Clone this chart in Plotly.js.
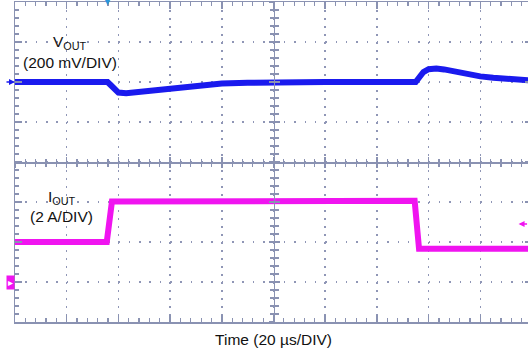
<!DOCTYPE html>
<html>
<head>
<meta charset="utf-8">
<script src="https://cdn.plot.ly/plotly-3.0.1.min.js"></script>
<style>
html,body{margin:0;padding:0;background:#fff;overflow:hidden;}
#chart{width:533px;height:350px;}
</style>
</head>
<body>
<div id="chart"></div>
<script>
// ---- data (time in µs, 20 µs/DIV) ----
const voutTime = [0, 35.8, 37, 38.5, 40, 43, 46, 50, 55, 60, 65, 70, 75, 80, 90, 100, 110, 120, 155, 156.5, 158, 160, 163, 166, 170, 175, 180, 185, 190, 195, 200];
const voutMv   = [0, 0, -15, -40, -53, -56, -52, -45, -36, -27, -20, -14, -10, -7, -4, -2, -1, 0, 0, 20, 50, 64, 68, 63, 52, 38, 28, 21, 15, 11, 8];

const ioutTime = [0, 35.5, 37.5, 100, 154.6, 156.3, 200];
const ioutA    = [2, 2, 4.02, 4.04, 4.06, 1.66, 1.66];

const triggerTime = 35.7;     // trigger position marker
const triggerLevelA = 2.9;    // trigger level marker on Iout
const voutLabel = ['V<sub>OUT</sub>', '(200 mV/DIV)'];
const ioutLabel = ['I<sub>OUT</sub>', '(2 A/DIV)'];
const timeLabel = 'Time (20 µs/DIV)';

// ---- styles ----
const GRID = '#8f96b6';
const AX = '#8a92b2';
const FONT = 'Liberation Sans, Arial, sans-serif';
const BLUE = '#1a1aee';
const MAG = '#f014f0';

const traces = [
  {x: voutTime, y: voutMv, xaxis: 'x', yaxis: 'y', type: 'scatter', mode: 'lines',
   line: {color: BLUE, width: 6}, hoverinfo: 'skip'},
  {x: ioutTime, y: ioutA, xaxis: 'x2', yaxis: 'y2', type: 'scatter', mode: 'lines',
   line: {color: MAG, width: 6}, hoverinfo: 'skip'},
  // empty traces so the centre-graticule axes get drawn
  {x: [], y: [], xaxis: 'x3', yaxis: 'y3', type: 'scatter', mode: 'lines', hoverinfo: 'skip'},
  {x: [], y: [], xaxis: 'x', yaxis: 'y4', type: 'scatter', mode: 'lines', hoverinfo: 'skip'}
];

const centerTickX = (side) => ({
  overlaying: 'x', anchor: 'free', position: 0.5, range: [0, 200], tick0: 0, dtick: 20,
  showgrid: false, zeroline: false, showline: side === 'inside', linecolor: AX, linewidth: 1.5,
  ticks: side, ticklen: 5, tickcolor: AX, tickwidth: 1.5, showticklabels: false,
  minor: {dtick: 4, ticks: side, ticklen: 3.5, tickcolor: AX, tickwidth: 1.2, showgrid: false}
});
const centerTickY = (side) => ({
  overlaying: 'y', anchor: 'free', position: 0.5, range: [-4, 4], tick0: 0, dtick: 1,
  showgrid: false, zeroline: false, showline: side === 'inside', linecolor: AX, linewidth: 1.5,
  ticks: side, ticklen: 5, tickcolor: AX, tickwidth: 1.5, showticklabels: false,
  minor: {dtick: 0.2, ticks: side, ticklen: 3.5, tickcolor: AX, tickwidth: 1.2, showgrid: false}
});

const layout = {
  width: 533, height: 350,
  margin: {l: 15, r: 1, t: 2, b: 28},
  paper_bgcolor: '#fff', plot_bgcolor: '#fff',
  showlegend: false,
  font: {family: FONT, size: 15.5, color: '#111'},
  xaxis: {
    range: [0, 200], tick0: 0, dtick: 20,
    showgrid: true, gridcolor: GRID, griddash: '1.5px,6.5px', gridwidth: 1.5,
    zeroline: false, showline: true, linecolor: AX, linewidth: 1.5, mirror: 'ticks',
    ticks: 'inside', ticklen: 7, tickcolor: AX, tickwidth: 1.5, showticklabels: false,
    minor: {dtick: 4, ticks: 'inside', ticklen: 4, tickcolor: AX, tickwidth: 1.2, showgrid: false},
    title: {text: timeLabel, font: {family: FONT, size: 15.5, color: '#111'}, standoff: 11}
  },
  yaxis: {
    range: [-1200, 400], tick0: 0, dtick: 200,
    showgrid: true, gridcolor: GRID, griddash: '1.5px,8.84px', gridwidth: 1.5,
    zeroline: false, showline: true, linecolor: AX, linewidth: 1.5, mirror: 'ticks',
    ticks: 'inside', ticklen: 7, tickcolor: AX, tickwidth: 1.5, showticklabels: false,
    minor: {dtick: 40, ticks: 'inside', ticklen: 4, tickcolor: AX, tickwidth: 1.2, showgrid: false}
  },
  yaxis2: {overlaying: 'y', range: [-2, 14], visible: false},
  xaxis2: centerTickX('inside'),
  xaxis3: centerTickX('outside'),
  yaxis3: centerTickY('inside'),
  yaxis4: centerTickY('outside'),
  annotations: [
    {xref: 'x', yref: 'y', x: 21.2, y: 200, text: voutLabel[0], showarrow: false,
     xanchor: 'center', yanchor: 'middle', font: {family: FONT, size: 15.5, color: '#111'}},
    {xref: 'x', yref: 'y', x: 21.2, y: 100, text: voutLabel[1], showarrow: false,
     xanchor: 'center', yanchor: 'middle', font: {family: FONT, size: 15.5, color: '#111'}},
    {xref: 'x', yref: 'y2', x: 18.3, y: 4.25, text: ioutLabel[0], showarrow: false,
     xanchor: 'center', yanchor: 'middle', font: {family: FONT, size: 15.5, color: '#111'}},
    {xref: 'x', yref: 'y2', x: 17.8, y: 3.3, text: ioutLabel[1], showarrow: false,
     xanchor: 'center', yanchor: 'middle', font: {family: FONT, size: 15.5, color: '#111'}},
    // channel reference markers
    {xref: 'paper', yref: 'y', x: 0, y: 0, text: '', showarrow: true, ax: -10, ay: 0,
     arrowhead: 2, arrowsize: 0.8, arrowwidth: 1.5, arrowcolor: BLUE},
    {xref: 'paper', yref: 'y2', x: 0, y: 0, text: '▸', showarrow: false, xanchor: 'right',
     yanchor: 'middle', bgcolor: MAG, borderpad: 1, font: {family: FONT, size: 10, color: '#fff'}},
    {xref: 'x', yref: 'y2', x: 194.8, y: triggerLevelA, text: '', showarrow: true, ax: 10, ay: 0,
     arrowhead: 2, arrowsize: 0.8, arrowwidth: 1.5, arrowcolor: MAG},
    {xref: 'x', yref: 'paper', x: triggerTime, y: 1, text: '▼', showarrow: false,
     xanchor: 'center', yanchor: 'middle', yshift: 2, font: {family: FONT, size: 13, color: '#2a96dc'}}
  ]
};

Plotly.newPlot('chart', traces, layout, {staticPlot: true, displayModeBar: false});
</script>
</body>
</html>
